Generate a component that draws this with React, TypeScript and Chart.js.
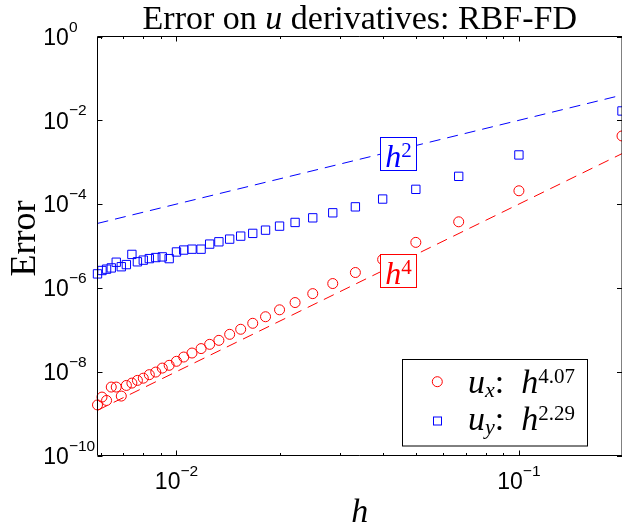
import React, { useEffect, useRef } from 'react';
import { Chart, registerables } from 'chart.js';

Chart.register(...registerables);

// h = 1/N, N = 5, 10, ..., 170
const hValues = [
  0.2, 0.1, 0.0667, 0.05, 0.04, 0.0333, 0.0286, 0.025, 0.0222, 0.02,
  0.0182, 0.0167, 0.0154, 0.0143, 0.0133, 0.0125, 0.0118, 0.0111, 0.0105, 0.01,
  0.00952, 0.00909, 0.0087, 0.00833, 0.008, 0.00769, 0.00741, 0.00714, 0.0069, 0.00667,
  0.00645, 0.00625, 0.00606, 0.00588,
];
const uxError = [
  4.23e-3, 2.08e-4, 3.78e-5, 1.22e-5, 4.77e-6, 2.33e-6, 1.27e-6, 7.3e-7, 4.47e-7, 3.0e-7,
  2.05e-7, 1.43e-7, 1.03e-7, 7.8e-8, 5.6e-8, 4.5e-8, 3.56e-8, 2.79e-8, 2.24e-8, 1.77e-8,
  1.42e-8, 1.22e-8, 9.8e-9, 8.5e-9, 7.0e-9, 6.2e-9, 5.35e-9, 4.7e-9, 2.62e-9, 4.3e-9,
  4.3e-9, 2.06e-9, 2.48e-9, 1.61e-9,
];
const uyError = [
  1.67e-2, 1.49e-3, 4.6e-4, 2.25e-4, 1.32e-4, 8.6e-5, 6.2e-5, 4.7e-5, 3.65e-5, 2.98e-5,
  2.39e-5, 2.0e-5, 1.72e-5, 1.46e-5, 1.26e-5, 1.11e-5, 8.4e-6, 8.4e-6, 8.0e-6, 7.2e-6,
  5.0e-6, 5.5e-6, 5.3e-6, 5.0e-6, 4.6e-6, 4.2e-6, 6.3e-6, 3.6e-6, 3.2e-6, 4.1e-6,
  3.0e-6, 2.8e-6, 2.6e-6, 2.16e-6,
];
// reference slopes
const refH = [0.00588, 0.2];
const refH2 = [3.46e-5, 0.04];
const refH4 = [1.2e-9, 1.6e-3];

const xRange = [0.00588, 0.2];
const yRange = [1e-10, 1];
const xMajorTicks = [0.01, 0.1];
const xMajorLabels = ['−2', '−1'];
const xMinorTicks = [0.006, 0.007, 0.008, 0.009, 0.02, 0.03, 0.04, 0.05, 0.06, 0.07, 0.08, 0.09];
const yMajorTicks = [1, 1e-2, 1e-4, 1e-6, 1e-8, 1e-10];
const yMajorLabels = ['0', '−2', '−4', '−6', '−8', '−10'];

const titleParts = ['Error on ', 'u', ' derivatives: RBF-FD'];
const yTitle = 'Error';
const xTitle = 'h';
const legendItems = [
  { name: 'u', sub: 'x', rate: '4.07' },
  { name: 'u', sub: 'y', rate: '2.29' },
];

const RED = '#ff0000';
const BLUE = '#0000ff';
const SERIF = '"Liberation Serif", "Times New Roman", serif';
const SANS = '"Liberation Sans", Arial, Helvetica, sans-serif';

type Part = [string, string, number?];

function drawRich(ctx: CanvasRenderingContext2D, parts: Part[], x: number, y: number, align: 'left' | 'center' = 'left') {
  let total = 0;
  const widths = parts.map((p) => {
    ctx.font = p[1];
    const w = ctx.measureText(p[0]).width;
    total += w;
    return w;
  });
  let cx = align === 'center' ? x - total / 2 : x;
  ctx.textAlign = 'left';
  ctx.textBaseline = 'alphabetic';
  parts.forEach((p, i) => {
    ctx.font = p[1];
    ctx.fillText(p[0], cx, y + (p[2] || 0));
    cx += widths[i];
  });
  return total;
}

const decorPlugin = {
  id: 'decor',
  afterDraw(chart: any) {
    const ctx: CanvasRenderingContext2D = chart.ctx;
    const xs = chart.scales.x;
    const ys = chart.scales.y;
    const L = xs.getPixelForValue(xRange[0]);
    const R = xs.getPixelForValue(xRange[1]);
    const T = ys.getPixelForValue(yRange[1]);
    const B = ys.getPixelForValue(yRange[0]);
    ctx.save();

    // slope annotation boxes
    const box = (color: string, yTop: number, sup: string) => {
      ctx.fillStyle = '#ffffff';
      ctx.fillRect(380.5, yTop, 36, 33);
      ctx.strokeStyle = color;
      ctx.lineWidth = 1;
      ctx.strokeRect(380.5, yTop, 36, 33);
      ctx.fillStyle = color;
      drawRich(ctx, [['h', `italic 32px ${SERIF}`], [sup, `21px ${SERIF}`, -10.5]], 398.5, yTop + 29.5, 'center');
    };
    box(BLUE, 137.5, '2');
    box(RED, 254.5, '4');

    // legend
    ctx.fillStyle = '#ffffff';
    ctx.fillRect(402.5, 359.5, 185, 86.5);
    ctx.strokeStyle = '#000000';
    ctx.lineWidth = 1;
    ctx.strokeRect(402.5, 359.5, 185, 86.5);
    legendItems.forEach((it, i) => {
      const my = 381.7 + i * 39.3;
      ctx.lineWidth = 1;
      if (i === 0) {
        ctx.strokeStyle = RED;
        ctx.beginPath();
        ctx.arc(437.3, my, 5, 0, Math.PI * 2);
        ctx.stroke();
      } else {
        ctx.strokeStyle = BLUE;
        ctx.strokeRect(433.5, my - 4, 8, 8);
      }
      ctx.fillStyle = '#000000';
      const base = 393.3 + i * 37;
      drawRich(ctx, [
        [it.name, `italic 34px ${SERIF}`],
        [it.sub, `italic 22px ${SERIF}`, 4],
        [':  ', `34px ${SERIF}`],
        ['h', `italic 34px ${SERIF}`],
        [it.rate, `21px ${SERIF}`, -10.5],
      ], 468, base);
    });

    // frame
    ctx.strokeStyle = '#000000';
    ctx.lineWidth = 1;
    ctx.beginPath();
    ctx.moveTo(L, T);
    ctx.lineTo(R, T);
    ctx.lineTo(R, B);
    ctx.lineTo(L, B);
    ctx.closePath();
    ctx.stroke();

    // ticks (inward)
    ctx.beginPath();
    xMajorTicks.forEach((v) => {
      const px = Math.round(xs.getPixelForValue(v)) + 0.5;
      ctx.moveTo(px, B); ctx.lineTo(px, B - 5);
      ctx.moveTo(px, T); ctx.lineTo(px, T + 5);
    });
    xMinorTicks.forEach((v) => {
      const px = Math.round(xs.getPixelForValue(v)) + 0.5;
      ctx.moveTo(px, B); ctx.lineTo(px, B - 2.5);
      ctx.moveTo(px, T); ctx.lineTo(px, T + 2.5);
    });
    yMajorTicks.forEach((v) => {
      const py = Math.round(ys.getPixelForValue(v)) + 0.5;
      ctx.moveTo(L, py); ctx.lineTo(L + 5, py);
      ctx.moveTo(R, py); ctx.lineTo(R - 5, py);
    });
    ctx.stroke();

    // tick labels
    ctx.fillStyle = '#000000';
    xMajorTicks.forEach((v, i) => {
      const px = xs.getPixelForValue(v);
      drawRich(ctx, [['10', `23px ${SANS}`], [xMajorLabels[i], `15.5px ${SANS}`, -13.3]], px, 489.3, 'center');
    });
    yMajorTicks.forEach((v, i) => {
      const py = ys.getPixelForValue(v);
      drawRich(ctx, [['10', `23px ${SANS}`], [yMajorLabels[i], `15.5px ${SANS}`, -13.3]], 43.3, py + 8.3, 'left');
    });

    // title
    drawRich(ctx, [
      [titleParts[0], `34px ${SERIF}`],
      [titleParts[1], `italic 34px ${SERIF}`],
      [titleParts[2], `34px ${SERIF}`],
    ], (L + R) / 2, 29, 'center');

    // axis titles
    drawRich(ctx, [[xTitle, `italic 34px ${SERIF}`]], (L + R) / 2, 522, 'center');
    ctx.save();
    ctx.translate(35, 238.5);
    ctx.rotate(-Math.PI / 2);
    ctx.font = `36px ${SERIF}`;
    ctx.textAlign = 'center';
    ctx.textBaseline = 'alphabetic';
    ctx.fillText(yTitle, 0, 0);
    ctx.restore();

    ctx.restore();
  },
};

export default function App() {
  const ref = useRef<HTMLCanvasElement | null>(null);
  useEffect(() => {
    if (!ref.current) return;
    const chart = new Chart(ref.current, {
      type: 'scatter',
      data: {
        datasets: [
          {
            label: 'h^2',
            data: refH.map((x, i) => ({ x, y: refH2[i] })),
            showLine: true,
            borderColor: BLUE,
            borderWidth: 1,
            borderDash: [11, 7],
            pointRadius: 0,
            fill: false,
          },
          {
            label: 'h^4',
            data: refH.map((x, i) => ({ x, y: refH4[i] })),
            showLine: true,
            borderColor: RED,
            borderWidth: 1,
            borderDash: [11, 7],
            pointRadius: 0,
            fill: false,
          },
          {
            label: 'u_x',
            data: hValues.map((x, i) => ({ x, y: uxError[i] })),
            showLine: false,
            pointStyle: 'circle',
            pointRadius: 5,
            pointBorderColor: RED,
            pointBackgroundColor: 'rgba(0,0,0,0)',
            pointBorderWidth: 1,
            borderColor: RED,
            backgroundColor: 'rgba(0,0,0,0)',
            clip: false,
          },
          {
            label: 'u_y',
            data: hValues.map((x, i) => ({ x, y: uyError[i] })),
            showLine: false,
            pointStyle: 'rect',
            pointRadius: 5.9,
            pointBorderColor: BLUE,
            pointBackgroundColor: 'rgba(0,0,0,0)',
            pointBorderWidth: 1,
            borderColor: BLUE,
            backgroundColor: 'rgba(0,0,0,0)',
            clip: false,
          },
        ],
      },
      options: {
        animation: false,
        responsive: false,
        maintainAspectRatio: false,
        events: [],
        layout: { autoPadding: false, padding: { left: 97.5, right: -2.4, top: 36.5, bottom: 69.5 } },
        plugins: {
          legend: { display: false },
          tooltip: { enabled: false },
          title: { display: false },
        },
        scales: {
          x: { type: 'logarithmic', min: xRange[0], max: xRange[1], display: false },
          y: { type: 'logarithmic', min: yRange[0], max: yRange[1], display: false },
        },
      },
      plugins: [decorPlugin],
    } as any);
    return () => chart.destroy();
  }, []);
  return (
    <div style={{ position: 'fixed', left: 0, top: 0, width: 622, height: 525, background: '#ffffff' }}>
      <canvas ref={ref} width={622} height={525} style={{ display: 'block' }} />
    </div>
  );
}
